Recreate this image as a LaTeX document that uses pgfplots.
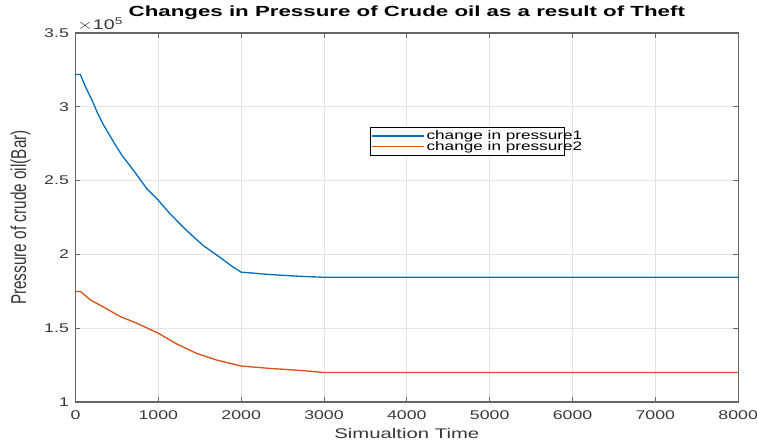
\documentclass[border=0pt]{standalone}
\usepackage{pgfplots}
\pgfplotsset{compat=1.18}
\usepackage{fontspec}
\setmainfont{Liberation Sans}
\usepackage{graphicx}
\definecolor{mblue}{rgb}{0,0.447,0.741}
\definecolor{morange}{rgb}{0.85,0.325,0.098}
\definecolor{axgray}{rgb}{0.40,0.40,0.40}
\definecolor{txtgray}{rgb}{0.22,0.22,0.22}
\begin{document}
\begin{tikzpicture}
\useasboundingbox (-56.6pt,-30pt) rectangle (511.1pt,301.5pt);
\begin{axis}[
  scale only axis,
  width=497pt, height=276.75pt,
  xmin=0, xmax=8000, ymin=100000, ymax=350000,
  xtick={0,1000,2000,3000,4000,5000,6000,7000,8000},
  xticklabels={0,1000,2000,3000,4000,5000,6000,7000,8000},
  ytick={100000,150000,200000,250000,300000,350000},
  yticklabels={1,1.5,2,2.5,3,3.5},
  scaled x ticks=false,
  scaled y ticks=false,
  xticklabel style={font=\fontsize{9.5}{10}\selectfont, text=txtgray, xscale=1.4, yshift=-3pt},
  yticklabel style={font=\fontsize{9.5}{10}\selectfont, text=txtgray, xscale=1.4},
  tick align=inside,
  major tick length=3.75pt,
  tick style={axgray, line width=0.6pt},
  axis line style={axgray, line width=1pt},
  grid=major,
  major grid style={gray!22, line width=0.7pt},
  title={\scalebox{1.52}[1]{\bfseries Changes in Pressure of Crude oil as a result of Theft}},
  title style={at={(0.5,1)}, anchor=base, yshift=6pt, font=\fontsize{11}{12}\selectfont},
  xlabel={\scalebox{1.45}[1]{Simualtion Time}},
  xlabel style={font=\fontsize{10.5}{12}\selectfont, text=txtgray, at={(0.5,0)}, anchor=base, yshift=-27pt},
  ylabel={\scalebox{1}[1.4]{Pressure of crude oil(Bar)}},
  ylabel style={font=\fontsize{11.5}{12}\selectfont, text=txtgray},
  ylabel shift=2pt,
  legend style={at={(0.444,0.745)}, anchor=north west, draw=black, line width=0.5pt,
    font=\fontsize{9.2}{9.2}\selectfont, inner sep=1pt, row sep=-2.5pt,
    nodes={inner sep=1.2pt}},
  legend cell align=left,
  legend image code/.code={\draw[#1, line width=1.2pt] (5pt,0pt) -- (44pt,0pt);},
  after end axis/.code={
    \node[anchor=south west, inner sep=0pt, text=txtgray, font=\fontsize{10.5}{11}\selectfont]
      at (rel axis cs:0,1) [xshift=1pt, yshift=1.5pt] {\scalebox{1.4}[1]{$\times$10\textsuperscript{5}}};
  },
]
\addplot[mblue, line width=1pt] coordinates {
(0,321900) (60,321900) (120,313600) (200,304500) (260,296600) (340,287600)
(460,276200) (560,267200) (700,257000) (860,244600) (1000,236700)
(1140,227600) (1340,216300) (1540,206100) (1740,198200) (1900,191500) (2000,188000)
(2340,186400) (2700,185200) (3000,184500) (8000,184500)
};
\addlegendentry{\makebox[101pt][l]{\scalebox{1.4}[1]{change in pressure1}}}
\addplot[morange, line width=1pt] coordinates {
(0,174900) (60,174900) (180,169200) (340,164300) (540,157900) (740,153400)
(1000,146600) (1220,139400) (1460,133000) (1700,128500) (2000,124400)
(2340,122800) (2740,121300) (3000,120000) (8000,120000)
};
\addlegendentry{\makebox[101pt][l]{\scalebox{1.4}[1]{change in pressure2}}}
\end{axis}
\end{tikzpicture}
\end{document}
